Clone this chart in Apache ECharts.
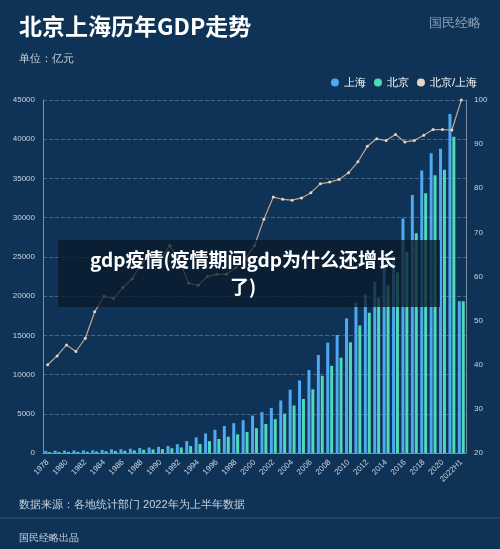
<!DOCTYPE html>
<html><head><meta charset="utf-8">
<script src="https://cdn.jsdelivr.net/npm/echarts@6/dist/echarts.min.js"></script>
<style>html,body{margin:0;padding:0;background:#0e3356;}#c{width:500px;height:549px;}</style>
</head><body><div id="c"></div>
<script>
const years = ['1978','1979','1980','1981','1982','1983','1984','1985','1986','1987','1988','1989','1990','1991','1992','1993','1994','1995','1996','1997','1998','1999','2000','2001','2002','2003','2004','2005','2006','2007','2008','2009','2010','2011','2012','2013','2014','2015','2016','2017','2018','2019','2020','2021','2022H1'];
const shanghai = [273,286,312,325,337,351,391,466,491,545,648,696,782,894,1114,1519,1991,2500,2958,3439,3801,4188,4771,5210,5741,6694,8072,9248,10572,12494,14070,15046,17166,19196,20182,21818,23568,25123,29900,32900,36000,38200,38800,43200,19350];
const beijing = [109,120,139,139,154,184,217,257,285,327,410,456,501,599,709,887,1145,1508,1789,2075,2377,2678,3162,3708,4315,5024,6060,6886,8118,9847,11115,12153,14114,16252,17879,19801,21331,23015,25669,28015,33100,35400,36100,40300,19350];
const ratio = [40,42,44.5,43,46,52,55.5,55,57.5,59.5,63,65,64,67,63.5,58.5,58,60,60.5,60.5,62,64,67,73,78,77.5,77.3,77.8,79,81,81.4,82,83.5,86,89.5,91.2,90.8,92.2,90.5,90.8,92,93.3,93.3,93.2,100];
const chart = echarts.init(document.getElementById('c'));
const tc = '#c8d3df';
chart.setOption({
  backgroundColor:'#0e3356',
  title:[{text:'北京上海历年GDP走势',left:14,top:10,textStyle:{color:'#fff',fontSize:23,fontWeight:'bold',fontFamily:'Noto Sans CJK SC'}},
         {text:'单位：亿元',left:14,top:48,textStyle:{color:tc,fontSize:11,fontWeight:'normal'}},
         {text:'国民经略',right:14,top:12,textStyle:{color:'#8fa3b8',fontSize:13,fontWeight:'normal'}},
         {text:'数据来源：各地统计部门 2022年为上半年数据',left:14,top:494,textStyle:{color:tc,fontSize:11,fontWeight:'normal'}},
         {text:'国民经略出品',left:14,top:528,textStyle:{color:tc,fontSize:10,fontWeight:'normal'}}],
  legend:{top:72,right:18,itemWidth:8,itemHeight:8,icon:'circle',textStyle:{color:'#fff',fontSize:11},
    data:['上海','北京','北京/上海']},
  grid:{left:43,right:34,top:100,bottom:96},
  xAxis:{type:'category',data:years,axisLine:{lineStyle:{color:'#7d8fa3'}},axisTick:{show:false},
    axisLabel:{color:tc,fontSize:8,rotate:45,interval:1}},
  yAxis:[{type:'value',min:0,max:45000,interval:5000,axisLine:{show:true,lineStyle:{color:'#7d8fa3'}},
    axisLabel:{color:tc,fontSize:8,formatter:v=>String(v)},splitLine:{lineStyle:{color:'#4a6685',type:'dashed'}}},
   {type:'value',min:20,max:100,interval:10,axisLine:{show:true,lineStyle:{color:'#7d8fa3'}},
    axisLabel:{color:tc,fontSize:8},splitLine:{show:false}}],
  series:[
   {name:'上海',type:'bar',data:shanghai,barWidth:3,barGap:'30%',itemStyle:{color:'#4fa8f0'}},
   {name:'北京',type:'bar',data:beijing,barWidth:3,itemStyle:{color:'#4fd9b8'}},
   {name:'北京/上海',type:'line',yAxisIndex:1,data:ratio,symbol:'circle',symbolSize:3,
    lineStyle:{color:'#c9a58a',width:1.2},itemStyle:{color:'#e8d3c3'},z:5}
  ],
  graphic:[{type:'rect',shape:{x:58,y:240,width:382,height:67},style:{fill:'rgba(10,25,40,0.75)'},z:100},
    {type:'text',x:243,y:246,z:101,style:{text:'gdp疫情(疫情期间gdp为什么还增长\n了)',fill:'#fff',
      font:'bold 19px "Noto Sans CJK SC"',align:'center',lineHeight:27}},
    {type:'line',shape:{x1:0,y1:518,x2:500,y2:518},style:{stroke:'#3a5775',lineWidth:1}}]
});
</script></body></html>
